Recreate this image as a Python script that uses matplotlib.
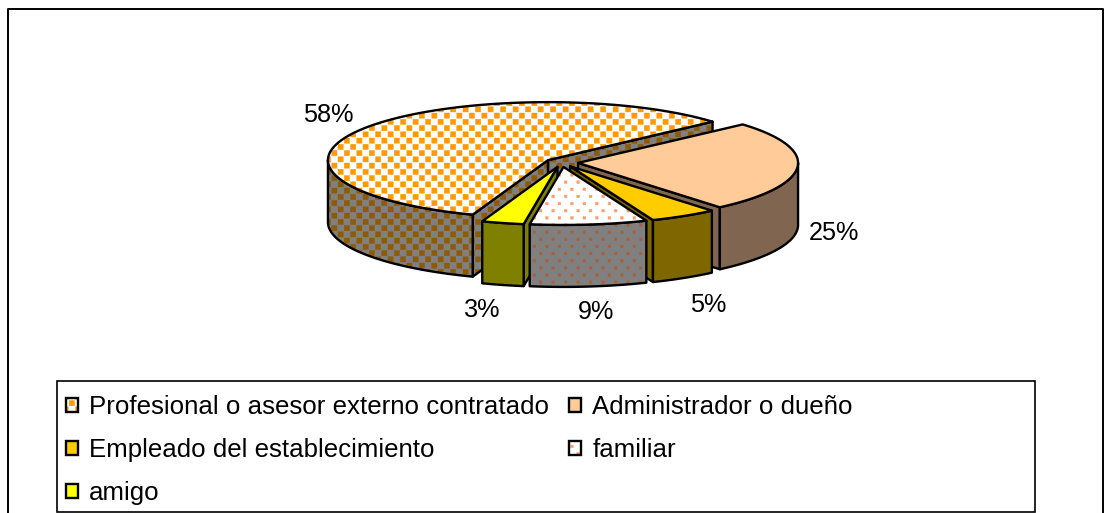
import numpy as np
import matplotlib
matplotlib.use("Agg")
import matplotlib.pyplot as plt
import matplotlib.hatch as mhatch
from matplotlib.patches import Polygon, Rectangle, Patch
from matplotlib.path import Path
from matplotlib.legend_handler import HandlerTuple

# ---- data ----
categories = ["Profesional o asesor externo contratado", "Administrador o dueño",
              "Empleado del establecimiento", "familiar", "amigo"]
values = [57.9, 25.4, 5.0, 8.6, 3.1]

# ---- styles ----
top_colors = ["#FFFFFF", "#FFCC99", "#FFCC00", "#FFFFFF", "#FFFF00"]
side_colors = ["#808080", "#806650", "#806600", "#808080", "#808000"]
top_hatch_colors = ["#FF9900", None, None, "#FF9966", None]
side_hatch_colors = ["#8F5A05", None, None, "#A8603A", None]
hatches = [".", None, None, "o", None]
label_xy = [(328, 115), (834, 233), (708, 305), (596, 312), (482, 310)]


class StaggeredSquares(mhatch.HatchPatternBase):
    """Staggered square dots on a one-inch hatch tile."""
    char = "."
    rows = 16
    cols = 8
    side = 0.052

    def __init__(self, hatch, density):
        self.on = hatch.count(self.char) > 0
        self.num_vertices = (self.rows * self.cols * 5) if self.on else 0

    def set_vertices_and_codes(self, vertices, codes):
        if not self.on:
            return
        s = self.side / 2
        shape = np.array([[-s, -s], [s, -s], [s, s], [-s, s], [-s, -s]])
        code = [Path.MOVETO, Path.LINETO, Path.LINETO, Path.LINETO, Path.CLOSEPOLY]
        k = 0
        for r in range(self.rows):
            shift = 0.5 if r % 2 else 0.0
            for c in range(self.cols):
                centre = ((c + shift + 0.25) / self.cols, (r + 0.5) / self.rows)
                vertices[k:k + 5] = shape + centre
                codes[k:k + 5] = code
                k += 5


class StaggeredDots(StaggeredSquares):
    char = "o"
    rows = 14
    cols = 8
    side = 0.026


mhatch._hatch_types = [StaggeredSquares if t is mhatch.SmallFilledCircles else
                       StaggeredDots if t is mhatch.SmallCircles else t
                       for t in mhatch._hatch_types]

plt.rcParams["font.family"] = ["Liberation Sans", "DejaVu Sans"]
plt.rcParams["hatch.linewidth"] = 0.3

W, H = 1112, 513
fig = plt.figure(figsize=(W / 100, H / 100), dpi=100, facecolor="white")
ax = fig.add_axes([0, 0, 1, 1])
ax.set_xlim(0, W)
ax.set_ylim(H, 0)
ax.axis("off")

# ---- pie geometry ----
CX, CY = 561.6, 162.6
A, B = 220.0, 58.0
DEPTH = 62.0
EXPLODE = 0.075
LW = 1.7
END_ANGLE = 250.0  # the first slice ends here, slices run clockwise


def arc(apex, t0, t1, n=80):
    t = np.radians(np.linspace(t0, t1, n))
    return np.column_stack([apex[0] + A * np.cos(t), apex[1] - B * np.sin(t)])


def draw(pts, face, hatch=None, hatch_color=None, z=1):
    if hatch:
        ax.add_patch(Polygon(pts, closed=True, facecolor=face, edgecolor=hatch_color,
                             hatch=hatch, lw=0, zorder=z))
        ax.add_patch(Polygon(pts, closed=True, facecolor="none", edgecolor="black",
                             lw=LW, joinstyle="round", zorder=z))
    else:
        ax.add_patch(Polygon(pts, closed=True, facecolor=face, edgecolor="black",
                             lw=LW, joinstyle="round", zorder=z))


fractions = np.array(values) / np.sum(values)
spans = fractions * 360.0
slices = []
hi = END_ANGLE
for i, span in enumerate(spans):
    lo = hi - span
    slices.append((i, lo, hi))
    hi = lo

# slice order, back to front
for z, i in enumerate([0, 1, 2, 4, 3]):
    _, lo, hi = slices[i]
    mid = np.radians((lo + hi) / 2)
    apex = (CX + EXPLODE * A * np.cos(mid), CY - EXPLODE * B * np.sin(mid))
    side_kw = dict(face=side_colors[i], hatch=hatches[i], hatch_color=side_hatch_colors[i], z=z + 2)
    # radial walls that face the viewer
    for t, sign in ((lo, 1), (hi, -1)):
        r = np.radians(t)
        normal_y = -sign * np.cos(r)
        if normal_y < 0:
            px = apex[0] + A * np.cos(r)
            py = apex[1] - B * np.sin(r)
            draw([apex, (px, py), (px, py + DEPTH), (apex[0], apex[1] + DEPTH)], **side_kw)
    # outer rim, front half only
    for k in (-1, 0, 1):
        r0 = max(lo, 180 + 360 * k)
        r1 = min(hi, 360 + 360 * k)
        if r1 > r0:
            upper = arc(apex, r0, r1)
            lower = upper[::-1] + np.array([0, DEPTH])
            draw(np.vstack([upper, lower]), **side_kw)
    # top face
    top = np.vstack([[apex], arc(apex, lo, hi, 160)])
    draw(top, top_colors[i], hatches[i], top_hatch_colors[i], z=z + 2)

for v, xy in zip(values, label_xy):
    ax.text(xy[0], xy[1], f"{v:.0f}%", fontsize=18.2, color="black", ha="center", va="center", zorder=20)

# ---- frame and legend box ----
ax.plot([8, 8, 1103, 1103], [H + 5, 9, 9, H + 5], color="black", lw=1.4, clip_on=False, zorder=15)
ax.add_patch(Rectangle((57, 381), 978, 131, facecolor="white", edgecolor="black", lw=1.2, zorder=15))

handles = []
for i in range(len(categories)):
    if hatches[i]:
        h = (Patch(facecolor=top_colors[i], edgecolor=top_hatch_colors[i], hatch=hatches[i], lw=0),
             Patch(facecolor="none", edgecolor="black", lw=LW))
    else:
        h = (Patch(facecolor=top_colors[i], edgecolor="black", lw=LW),)
    handles.append(h)

# matplotlib fills legends column by column: first column holds rows 1, 3, 5
order = [0, 2, 4, 1, 3]
leg = ax.legend([handles[i] for i in order], [categories[i] for i in order],
                handler_map={tuple: HandlerTuple(ndivide=1, pad=0)},
                ncol=2, loc="upper left", bbox_to_anchor=(66 / W, 1 - 395 / H),
                frameon=False, fontsize=18.6, borderpad=0, borderaxespad=0,
                handlelength=0.46, handleheight=0.46, handletextpad=0.42,
                labelspacing=0.74, columnspacing=0.8, labelcolor="black")
leg.set_zorder(16)

fig.savefig("out.png", dpi=100, facecolor="white")
